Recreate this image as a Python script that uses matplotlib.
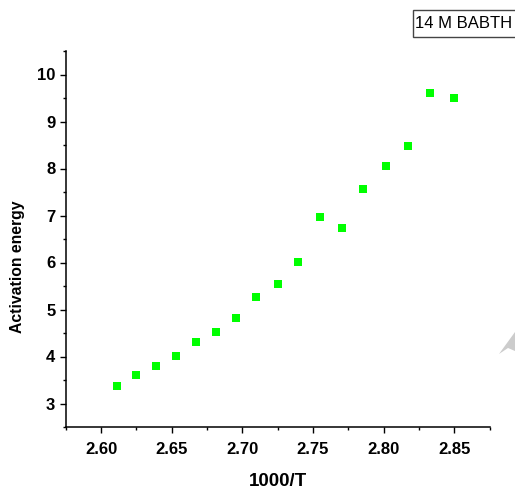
import matplotlib
matplotlib.use("Agg")
import matplotlib.pyplot as plt
from matplotlib.ticker import MultipleLocator, FormatStrFormatter
from matplotlib.patches import Polygon, Rectangle

plt.rcParams['font.family'] = ['Liberation Sans', 'DejaVu Sans']

# Inverse temperature (1000/T) and activation energy
inv_temp = [2.611, 2.6248, 2.6386, 2.6528, 2.6669, 2.6811, 2.6955, 2.7100,
            2.7249, 2.7397, 2.7549, 2.7702, 2.7857, 2.8013, 2.8171, 2.8331,
            2.8494]
activation = [3.38, 3.61, 3.80, 4.01, 4.31, 4.53, 4.82, 5.27,
              5.54, 6.01, 6.97, 6.73, 7.56, 8.05, 8.48, 9.61,
              9.50]
series_label = "14 M BABTH"

W, H = 515, 493
fig = plt.figure(figsize=(W / 100, H / 100), dpi=100)
ax = fig.add_axes([65.7 / W, (H - 427) / H, (489.7 - 65.7) / W, (427 - 51) / H])

ax.plot(inv_temp, activation, linestyle='none', marker='s', markersize=5.1,
        color='#00ff00', markeredgewidth=0)

ax.set_xlim(2.575, 2.875)
ax.set_ylim(2.5, 10.5)
ax.xaxis.set_major_locator(MultipleLocator(0.05))
ax.xaxis.set_minor_locator(MultipleLocator(0.025))
ax.yaxis.set_major_locator(MultipleLocator(1))
ax.yaxis.set_minor_locator(MultipleLocator(0.5))
ax.xaxis.set_major_formatter(FormatStrFormatter('%.2f'))

for s in ('top', 'right'):
    ax.spines[s].set_visible(False)
for s in ('left', 'bottom'):
    ax.spines[s].set_linewidth(1.1)

ax.tick_params(which='major', direction='out', length=4.5, width=1.0,
               labelsize=12, pad=3)
ax.tick_params(which='minor', direction='out', length=2.5, width=1.0)
for lab in ax.get_xticklabels() + ax.get_yticklabels():
    lab.set_fontweight('bold')
ax.tick_params(axis='x', pad=6)

ax.set_xlabel('1000/T', fontsize=13.5, fontweight='bold')
ax.xaxis.set_label_coords(0.5, -0.122)
ax.set_ylabel('Activation energy', fontsize=11.3, fontweight='bold')
ax.yaxis.set_label_coords(-0.097, (427 - 267) / (427 - 51))

# Series caption box in the upper right corner, running off the edge
fig.patches.append(Rectangle((413 / W, (H - 37) / H), 110 / W, 27 / H,
                             transform=fig.transFigure, facecolor='white',
                             edgecolor='#444444', linewidth=1.0))
fig.text(415 / W, (H - 23.5) / H, series_label, fontsize=12, va='center',
         ha='left')

# Light grey shape at the right edge
fig.patches.append(Polygon([(499 / W, (H - 354) / H), (515 / W, (H - 332) / H),
                            (515 / W, (H - 351) / H), (508 / W, (H - 348) / H)],
                           closed=True, transform=fig.transFigure,
                           facecolor='#cccccc', edgecolor='none'))

fig.savefig('out.png', dpi=100)
